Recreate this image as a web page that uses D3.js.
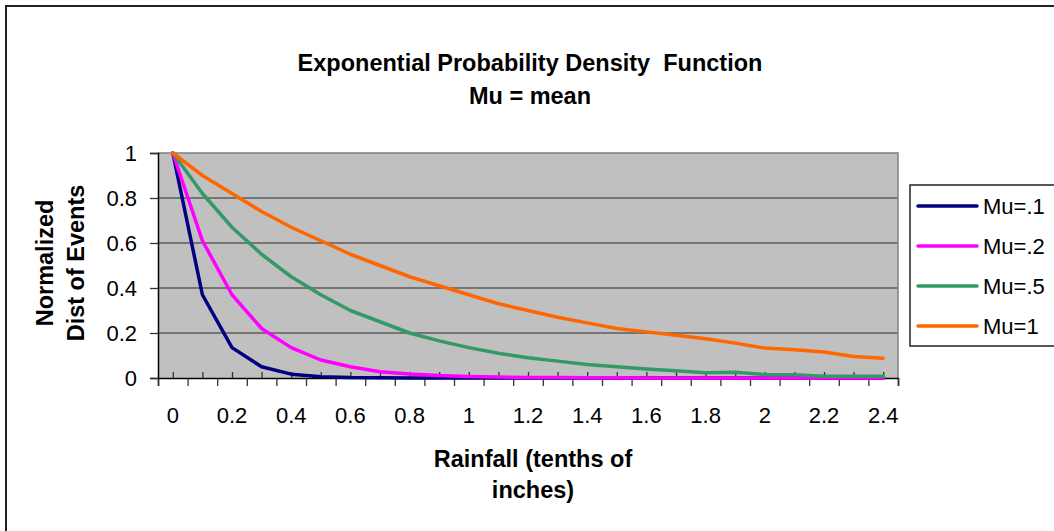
<!DOCTYPE html>
<html>
<head>
<meta charset="utf-8">
<script src="https://cdn.jsdelivr.net/npm/d3@7"></script>
<style>
  body { margin: 0; background: #fff; }
  svg text { font-family: "Liberation Sans", Arial, sans-serif; fill: #000; }
</style>
</head>
<body>
<svg id="chart" width="1054" height="531"></svg>
<script>
// categories along the x axis (rainfall, tenths of inches)
let rainfall = ["0","0.1","0.2","0.3","0.4","0.5","0.6","0.7","0.8","0.9","1","1.1","1.2",
  "1.3","1.4","1.5","1.6","1.7","1.8","1.9","2","2.1","2.2","2.3","2.4"]

// normalized distribution
let mu01 = [1, 0.37, 0.135, 0.05, 0.017, 0.006, 0.002, 0.001, 0, 0, 0, 0, 0,
  0, 0, 0, 0, 0, 0, 0, 0, 0, 0, 0, 0]
let mu02 = [1, 0.61, 0.37, 0.22, 0.135, 0.08, 0.05, 0.028, 0.018, 0.011, 0.007, 0.004, 0.002,
  0.002, 0.001, 0.001, 0, 0, 0, 0, 0, 0, 0, 0, 0]
let mu05 = [1, 0.82, 0.67, 0.55, 0.45, 0.37, 0.30, 0.25, 0.20, 0.165, 0.135, 0.11, 0.09,
  0.075, 0.06, 0.05, 0.04, 0.032, 0.023, 0.026, 0.015, 0.015, 0.008, 0.008, 0.008]
let mu1 = [1, 0.90, 0.82, 0.74, 0.67, 0.61, 0.55, 0.50, 0.45, 0.41, 0.37, 0.33, 0.30,
  0.27, 0.245, 0.22, 0.205, 0.19, 0.174, 0.155, 0.133, 0.126, 0.116, 0.096, 0.088]

let seriesNames = ["Mu=.1", "Mu=.2", "Mu=.5", "Mu=1"]
let yTicks = [0, 0.2, 0.4, 0.6, 0.8, 1]
let xLabels = ["0","0.2","0.4","0.6","0.8","1","1.2","1.4","1.6","1.8","2","2.2","2.4"]

let series = [mu01, mu02, mu05, mu1].map(function(vals, i) {
  return {name: seriesNames[i], values: vals.map(function(v, j) { return {cat: rainfall[j], v: v} })}
})

//====================== SET UP SVG ======================
let svg = d3.select("#chart"),
    plot = {left: 158, right: 898, top: 153, bottom: 378},
    colors = ["#000080", "#ff00ff", "#339966", "#ff6600"],
    color = d3.scaleOrdinal(seriesNames, colors),
    titleSize = "23.5px"

// outer chart frame (right / bottom run off the picture)
svg.append("rect")
  .attr("x", 6).attr("y", 6).attr("width", 1100).attr("height", 600)
  .attr("fill", "none").attr("stroke", "#222").attr("stroke-width", 2)

let x = d3.scaleBand().domain(rainfall).range([plot.left, plot.right]).padding(0),
    y = d3.scaleLinear().domain([0, 1]).range([plot.bottom, plot.top])
let cx = function(c) { return x(c) + x.bandwidth() / 2 }

// plot area
svg.append("rect")
  .attr("x", plot.left).attr("y", plot.top)
  .attr("width", plot.right - plot.left).attr("height", plot.bottom - plot.top)
  .attr("fill", "#c0c0c0")

// grid lines
svg.append("g")
  .selectAll("line")
  .data(yTicks.filter(function(t) { return t > 0 && t < 1 }))
  .enter().append("line")
  .attr("x1", plot.left).attr("x2", plot.right)
  .attr("y1", function(d) { return y(d) }).attr("y2", function(d) { return y(d) })
  .attr("stroke", "#2a2a2a").attr("stroke-width", 1.2)

// top + right border of plot
svg.append("path")
  .attr("d", "M" + plot.left + "," + y(1) + "H" + plot.right + "V" + plot.bottom)
  .attr("fill", "none").attr("stroke", "#808080").attr("stroke-width", 1.5)

//====================== AXES ======================
let boundaries = rainfall.map(function(c) { return x(c) }).concat([plot.right])
let xPos = d3.scaleLinear().domain([plot.left, plot.right]).range([plot.left, plot.right])

// outward ticks at category boundaries
svg.append("g")
  .attr("transform", "translate(0," + plot.bottom + ")")
  .call(d3.axisBottom(xPos).tickValues(boundaries).tickSize(8).tickFormat(""))
  .call(function(g) {
    g.select(".domain").attr("stroke", "#000").attr("stroke-width", 1.5)
    g.selectAll(".tick line").attr("stroke", "#333").attr("stroke-width", 1.3)
  })

// short inward ticks at category centres
svg.append("g")
  .attr("transform", "translate(0," + plot.bottom + ")")
  .call(d3.axisBottom(xPos).tickValues(rainfall.map(cx)).tickSize(-6).tickFormat(""))
  .call(function(g) {
    g.select(".domain").remove()
    g.selectAll(".tick line").attr("stroke", "#333").attr("stroke-width", 1.3)
  })

// x tick labels
svg.append("g")
  .selectAll("text")
  .data(xLabels)
  .enter().append("text")
  .attr("x", function(d) { return cx(d) })
  .attr("y", 423)
  .attr("text-anchor", "middle")
  .style("font-size", "22px")
  .text(function(d) { return d })

// y axis
svg.append("g")
  .attr("transform", "translate(" + plot.left + ",0)")
  .call(d3.axisLeft(y).tickValues(yTicks).tickSize(8).tickFormat(""))
  .call(function(g) {
    g.select(".domain").attr("stroke", "#000").attr("stroke-width", 1.5)
    g.selectAll(".tick line").attr("stroke", "#333").attr("stroke-width", 1.3)
  })

svg.append("g")
  .selectAll("text")
  .data(yTicks)
  .enter().append("text")
  .attr("x", 137)
  .attr("y", function(d) { return y(d) + 8 })
  .attr("text-anchor", "end")
  .style("font-size", "22px")
  .text(function(d) { return d })

//====================== LINES ======================
let line = d3.line()
  .x(function(d) { return cx(d.cat) })
  .y(function(d) { return y(d.v) })

svg.append("g")
  .selectAll("path")
  .data(series)
  .enter().append("path")
  .attr("d", function(d) { return line(d.values) })
  .attr("fill", "none")
  .attr("stroke", function(d) { return color(d.name) })
  .attr("stroke-width", 3.5)
  .attr("stroke-linejoin", "round")
  .attr("stroke-linecap", "round")

//====================== TITLES ======================
let title = svg.append("text")
  .attr("text-anchor", "middle")
  .style("font-size", titleSize).style("font-weight", "bold")
title.append("tspan").attr("x", 530).attr("y", 71).attr("xml:space", "preserve")
  .text("Exponential Probability Density  Function")
title.append("tspan").attr("x", 530).attr("y", 104).text("Mu = mean")

let xTitle = svg.append("text")
  .attr("text-anchor", "middle")
  .style("font-size", titleSize).style("font-weight", "bold")
xTitle.append("tspan").attr("x", 533).attr("y", 467).text("Rainfall (tenths of")
xTitle.append("tspan").attr("x", 533).attr("y", 498).text("inches)")

let yTitle = svg.append("text")
  .attr("transform", "rotate(-90)")
  .attr("text-anchor", "middle")
  .style("font-size", titleSize).style("font-weight", "bold")
yTitle.append("tspan").attr("x", -263).attr("y", 53).text("Normalized")
yTitle.append("tspan").attr("x", -263).attr("y", 84).text("Dist of Events")

//====================== LEGEND ======================
svg.append("rect")
  .attr("x", 910).attr("y", 185).attr("width", 200).attr("height", 161)
  .attr("fill", "#fff").attr("stroke", "#222").attr("stroke-width", 1.5)

let legend = svg.selectAll(".legendItem")
  .data(seriesNames)
  .enter().append("g")
  .attr("class", "legendItem")
  .attr("transform", function(d, i) { return "translate(0," + (206 + i * 40) + ")" })

legend.append("line")
  .attr("x1", 918).attr("x2", 977)
  .attr("stroke", function(d) { return color(d) })
  .attr("stroke-width", 3.5)
  .attr("stroke-linecap", "round")

legend.append("text")
  .attr("x", 983).attr("y", 8)
  .style("font-size", "22px")
  .text(function(d) { return d })
</script>
</body>
</html>
